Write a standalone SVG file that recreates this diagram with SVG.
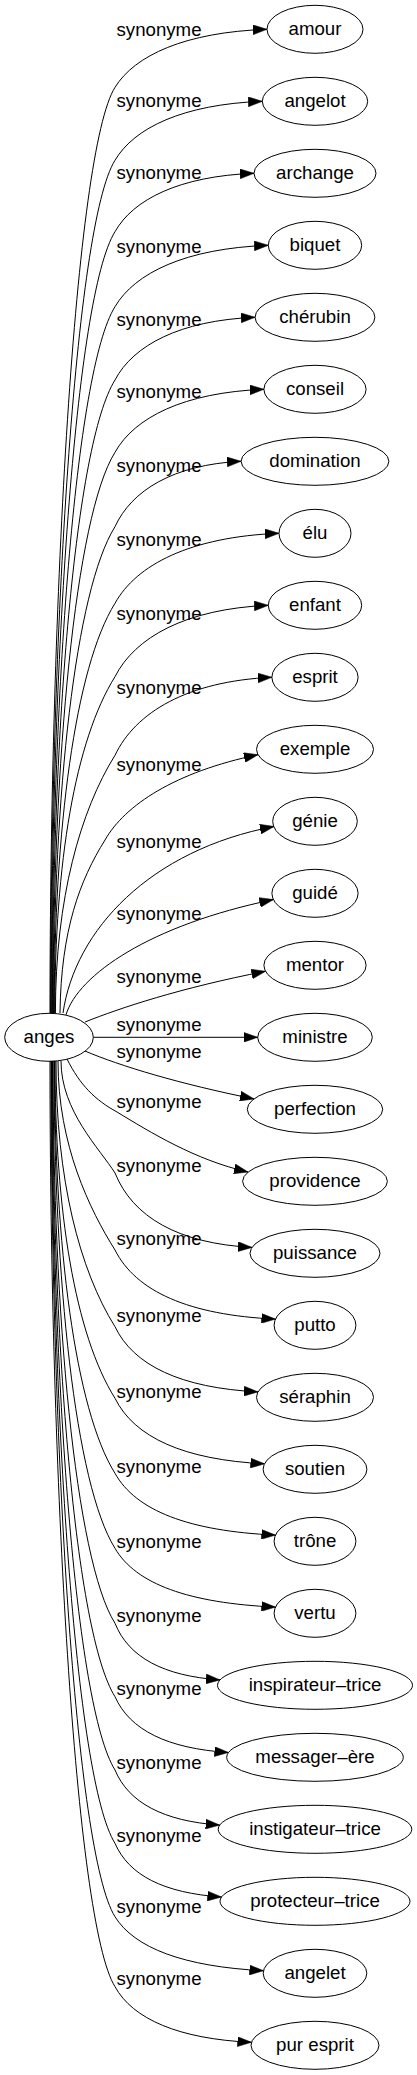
<svg xmlns="http://www.w3.org/2000/svg" width="417" height="2075" viewBox="0 0 417 2075">
<defs>
<style>
.n ellipse{fill:none;stroke:#000;stroke-width:1}
.n text{font-family:"Liberation Sans",Arial,sans-serif;font-size:18.67px;text-anchor:middle;fill:#000}
.e path{fill:none;stroke:#000;stroke-width:1;marker-end:url(#ah)}
.e text{font-family:"Liberation Sans",Arial,sans-serif;font-size:18.67px;text-anchor:middle;fill:#000}
</style>
<marker id="ah" markerUnits="userSpaceOnUse" markerWidth="14" markerHeight="10" viewBox="0 0 13.33 9.33" refX="13.33" refY="4.67" orient="auto">
<path d="M0,0 L13.33,4.67 L0,9.33 z" fill="#000" stroke="#000" stroke-width="0.5"/>
</marker>
</defs>
<rect width="417" height="2075" fill="#fff"/>
<g id="edges" class="e">
<path d="M50,1013 C50,600.1 75,151.3 115,87.3 C134.8,55.4 184.9,32.2 267,29.3"/>
<text x="159" y="35.7">synonyme</text>
<path d="M50.6,1013 C50.6,632.7 75,224.3 115,160.3 C134.1,127.9 182.8,104.3 262.3,101.3"/>
<text x="159" y="106.7">synonyme</text>
<path d="M51.2,1013 C51.2,664.5 75,295.7 115,231.7 C133.1,199.6 178.9,176.2 254,173.3"/>
<text x="159" y="179.3">synonyme</text>
<path d="M51.8,1013 C51.8,698 75,370.7 115,306.7 C134.9,272.9 185.5,248.4 268.3,245.3"/>
<text x="159" y="253.3">synonyme</text>
<path d="M52.4,1013 C52.4,730.7 75,444 115,380 C133.2,345.5 179.4,320.4 255.1,317.3"/>
<text x="159" y="325.7">synonyme</text>
<path d="M53,1013 C53,762.9 75,516.3 115,452.3 C134.4,417.6 183.5,392.5 263.9,389.3"/>
<text x="159" y="398.3">synonyme</text>
<path d="M53.6,1013 C53.6,796.1 75,590.7 115,526.7 C131.4,490.7 173,464.6 241.1,461.3"/>
<text x="159" y="472.3">synonyme</text>
<path d="M54.2,1013 C54.2,830.3 75,667.3 115,603.3 C136.3,564.8 190.4,536.8 279,533.3"/>
<text x="159" y="546">synonyme</text>
<path d="M54.8,1013 C54.8,863 75,740.7 115,676.7 C134.9,637.4 185.5,608.9 268.3,605.3"/>
<text x="159" y="620">synonyme</text>
<path d="M55.4,1013 C55.4,898.1 80.6,810.3 115,755.3 C135.4,712.4 187.2,681.2 271.9,677.3"/>
<text x="159" y="694.3">synonyme</text>
<path d="M60,1013 C61,930 80,880 105,840 C125,805 175,772 258,754.7"/>
<text x="159" y="771">synonyme</text>
<path d="M63,1013 C75,930 150,850 274,826.5"/>
<text x="159" y="848.3">synonyme</text>
<path d="M66,1014.8 C78,975 150,925 273.4,899.6"/>
<text x="159" y="920">synonyme</text>
<path d="M85,1022 C120,1008 180,988 265.5,971.3"/>
<text x="159" y="983.3">synonyme</text>
<path d="M93.3,1037.3 L257.7,1037.3"/>
<text x="159" y="1031">synonyme</text>
<path d="M85,1051 C120,1066 180,1084 254,1098.9"/>
<text x="159" y="1058.3">synonyme</text>
<path d="M67,1059 C80,1085 95,1100 117,1112 C150,1132 195,1160 248,1172"/>
<text x="159" y="1107.7">synonyme</text>
<path d="M61,1061 C61,1111 100,1149 115,1173 C132.8,1217 178,1243.4 252,1247.4"/>
<text x="159" y="1171.7">synonyme</text>
<path d="M58,1061 C58,1145.3 89.8,1209.7 115,1250 C135.9,1291.4 188.8,1315.1 275.5,1319.1"/>
<text x="159" y="1245">synonyme</text>
<path d="M56,1061 C56,1179.5 79.6,1270 115,1326.7 C133.6,1365.5 180.8,1387.9 258,1391.9"/>
<text x="159" y="1321.7">synonyme</text>
<path d="M55,1061 C55,1211.4 75,1334.3 115,1398.3 C134.4,1437.4 183.8,1459.8 264.5,1463.8"/>
<text x="159" y="1398.3">synonyme</text>
<path d="M54.5,1061 C54.5,1244.9 75,1409.3 115,1473.3 C135.9,1510.7 188.8,1531.1 275.5,1535.1"/>
<text x="159" y="1473.3">synonyme</text>
<path d="M54,1061 C54,1278.3 75,1484.3 115,1548.3 C135.9,1584.1 188.8,1603.1 275.5,1607.1"/>
<text x="159" y="1547.7">synonyme</text>
<path d="M53,1061 C53,1311.8 75,1559.3 115,1623.3 C128.7,1657.4 163.3,1675.9 220,1679.9"/>
<text x="159" y="1621.7">synonyme</text>
<path d="M52.5,1061 C52.5,1344.5 75,1632.7 115,1696.7 C129.8,1730 167.2,1748.5 228.5,1752.5"/>
<text x="159" y="1695">synonyme</text>
<path d="M52,1061 C52,1377.2 75,1706 115,1770 C128.6,1802.6 163.2,1821.1 219.7,1825.1"/>
<text x="159" y="1769">synonyme</text>
<path d="M51.5,1061 C51.5,1409.9 75,1779.3 115,1843.3 C128.8,1875.2 163.5,1893 221.5,1897"/>
<text x="159" y="1841.7">synonyme</text>
<path d="M51,1061 C51,1442.6 75,1852.7 115,1916.7 C134.3,1947.8 183.3,1966.7 263.5,1970.7"/>
<text x="159" y="1913.3">synonyme</text>
<path d="M50,1061 C50,1473.9 75,1922.7 115,1986.7 C132.7,2018.9 178.5,2039 251.5,2042.3"/>
<text x="159" y="1985">synonyme</text>
</g>
<g id="anges" class="n"><ellipse cx="49" cy="1037.3" rx="44.3" ry="24"/><text x="49" y="1042.9">anges</text></g>
<g id="amour" class="n"><ellipse cx="315" cy="29.3" rx="48" ry="24"/><text x="315" y="34.9">amour</text></g>
<g id="angelot" class="n"><ellipse cx="315" cy="101.3" rx="52.7" ry="24"/><text x="315" y="106.9">angelot</text></g>
<g id="archange" class="n"><ellipse cx="315" cy="173.3" rx="61" ry="24"/><text x="315" y="178.9">archange</text></g>
<g id="biquet" class="n"><ellipse cx="315" cy="245.3" rx="46.7" ry="24"/><text x="315" y="250.9">biquet</text></g>
<g id="cherubin" class="n"><ellipse cx="315" cy="317.3" rx="59.9" ry="24"/><text x="315" y="322.9">chérubin</text></g>
<g id="conseil" class="n"><ellipse cx="315" cy="389.3" rx="51.1" ry="24"/><text x="315" y="394.9">conseil</text></g>
<g id="domination" class="n"><ellipse cx="315" cy="461.3" rx="73.9" ry="24"/><text x="315" y="466.9">domination</text></g>
<g id="elu" class="n"><ellipse cx="315" cy="533.3" rx="36" ry="24"/><text x="315" y="538.9">élu</text></g>
<g id="enfant" class="n"><ellipse cx="315" cy="605.3" rx="46.7" ry="24"/><text x="315" y="610.9">enfant</text></g>
<g id="esprit" class="n"><ellipse cx="315" cy="677.3" rx="43.1" ry="24"/><text x="315" y="682.9">esprit</text></g>
<g id="exemple" class="n"><ellipse cx="315" cy="749.3" rx="58.5" ry="24"/><text x="315" y="754.9">exemple</text></g>
<g id="genie" class="n"><ellipse cx="315" cy="821.3" rx="42.3" ry="24"/><text x="315" y="826.9">génie</text></g>
<g id="guide" class="n"><ellipse cx="315" cy="893.3" rx="43.1" ry="24"/><text x="315" y="898.9">guidé</text></g>
<g id="mentor" class="n"><ellipse cx="315" cy="965.3" rx="51.1" ry="24"/><text x="315" y="970.9">mentor</text></g>
<g id="ministre" class="n"><ellipse cx="315" cy="1037.3" rx="57.3" ry="24"/><text x="315" y="1042.9">ministre</text></g>
<g id="perfection" class="n"><ellipse cx="315" cy="1109.3" rx="67.7" ry="24"/><text x="315" y="1114.9">perfection</text></g>
<g id="providence" class="n"><ellipse cx="315" cy="1181.3" rx="72.4" ry="24"/><text x="315" y="1186.9">providence</text></g>
<g id="puissance" class="n"><ellipse cx="315" cy="1253.3" rx="65" ry="24"/><text x="315" y="1258.9">puissance</text></g>
<g id="putto" class="n"><ellipse cx="315" cy="1325.3" rx="40.9" ry="24"/><text x="315" y="1330.9">putto</text></g>
<g id="seraphin" class="n"><ellipse cx="315" cy="1397.3" rx="58.5" ry="24"/><text x="315" y="1402.9">séraphin</text></g>
<g id="soutien" class="n"><ellipse cx="315" cy="1469.3" rx="51.9" ry="24"/><text x="315" y="1474.9">soutien</text></g>
<g id="trone" class="n"><ellipse cx="315" cy="1541.3" rx="40.9" ry="24"/><text x="315" y="1546.9">trône</text></g>
<g id="vertu" class="n"><ellipse cx="315" cy="1613.3" rx="40.9" ry="24"/><text x="315" y="1618.9">vertu</text></g>
<g id="inspirateur-trice" class="n"><ellipse cx="315" cy="1685.3" rx="97.5" ry="24"/><text x="315" y="1690.9">inspirateur–trice</text></g>
<g id="messager-ere" class="n"><ellipse cx="315" cy="1757.3" rx="88.3" ry="24"/><text x="315" y="1762.9">messager–ère</text></g>
<g id="instigateur-trice" class="n"><ellipse cx="315" cy="1829.3" rx="96.8" ry="24"/><text x="315" y="1834.9">instigateur–trice</text></g>
<g id="protecteur-trice" class="n"><ellipse cx="315" cy="1901.3" rx="95" ry="24"/><text x="315" y="1906.9">protecteur–trice</text></g>
<g id="angelet" class="n"><ellipse cx="315" cy="1973.3" rx="51.8" ry="24"/><text x="315" y="1978.9">angelet</text></g>
<g id="pur-esprit" class="n"><ellipse cx="315" cy="2045.3" rx="64" ry="24"/><text x="315" y="2050.9">pur esprit</text></g>
</svg>
